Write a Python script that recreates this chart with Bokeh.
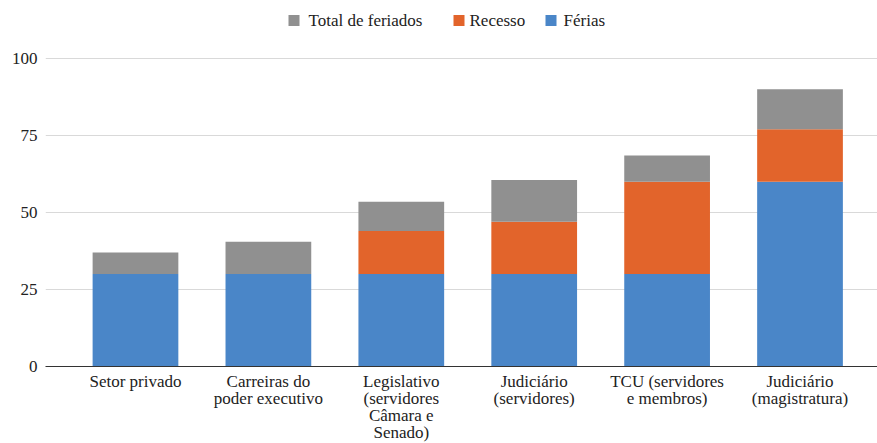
from bokeh.plotting import figure
from bokeh.models import ColumnDataSource, Range1d, FixedTicker, Label, BoxAnnotation
from bokeh.embed import file_html
from bokeh.resources import INLINE

categories = ["Setor privado", "Carreiras do\npoder executivo",
              "Legislativo\n(servidores\nCâmara e\nSenado)", "Judiciário\n(servidores)",
              "TCU (servidores\ne membros)", "Judiciário\n(magistratura)"]
ferias = [30, 30, 30, 30, 30, 60]
recesso = [0, 0, 14, 17, 30, 17]
feriados = [7, 10.5, 9.5, 13.5, 8.5, 13]
y_ticks = [0, 25, 50, 75, 100]

series_names = ["Férias", "Recesso", "Total de feriados"]
series_colors = ["#4a86c8", "#e2642b", "#909090"]

xs = list(range(len(categories)))
src = ColumnDataSource(dict(x=xs, ferias=ferias, recesso=recesso, feriados=feriados))

FONT = "Liberation Serif"
FRAME_W, FRAME_H = 832, 366
p = figure(output_backend="svg", toolbar_location=None,
           frame_width=FRAME_W, frame_height=FRAME_H,
           x_range=Range1d(-0.677, 5.583), y_range=Range1d(0, 118.8),
           min_border_left=45, min_border_right=0, min_border_top=0, min_border_bottom=66)
p.outline_line_color = None

rs = p.vbar_stack(["ferias", "recesso", "feriados"], x="x", width=0.645, source=src,
                  color=series_colors, line_color=None)

p.xgrid.grid_line_color = None
p.ygrid.grid_line_color = "#d9d9d9"
p.ygrid.ticker = FixedTicker(ticks=y_ticks)

p.yaxis.ticker = FixedTicker(ticks=y_ticks)
p.yaxis.axis_line_color = None
p.yaxis.major_tick_line_color = None
p.yaxis.minor_tick_line_color = None
p.yaxis.major_tick_out = 0
p.yaxis.major_tick_in = 0
p.yaxis.major_label_standoff = 8
p.yaxis.major_label_text_font = FONT
p.yaxis.major_label_text_font_size = "17px"
p.yaxis.major_label_text_color = "#222222"

p.xaxis.ticker = FixedTicker(ticks=xs)
p.xaxis.major_label_overrides = {i: c for i, c in zip(xs, categories)}
p.xaxis.axis_line_color = "#333333"
p.xaxis.major_tick_line_color = None
p.xaxis.minor_tick_line_color = None
p.xaxis.major_tick_out = 0
p.xaxis.major_tick_in = 0
p.xaxis.major_label_standoff = 5
p.xaxis.major_label_text_font = FONT
p.xaxis.major_label_text_font_size = "17px"
p.xaxis.major_label_text_color = "#222222"
p.xaxis.major_label_text_line_height = 0.9

# Legend (top, horizontal): order Total de feriados, Recesso, Férias
legend_order = [2, 1, 0]
swatch_left = [243, 408, 500]   # screen px from frame left
text_left = [263, 424, 518]
legend_y = FRAME_H - 20         # screen px from frame bottom (centre line)
for idx, sx, tx in zip(legend_order, swatch_left, text_left):
    p.add_layout(BoxAnnotation(left=sx, right=sx + 11, bottom=legend_y - 5.5, top=legend_y + 5.5,
                               left_units="screen", right_units="screen",
                               bottom_units="screen", top_units="screen",
                               fill_color=series_colors[idx], fill_alpha=1, line_color=None))
    p.add_layout(Label(x=tx, y=legend_y, x_units="screen", y_units="screen",
                       text=series_names[idx], text_font=FONT, text_font_size="17px",
                       text_color="#222222", text_baseline="middle", text_align="left"))

open("out.html", "w").write(file_html(p, INLINE))
